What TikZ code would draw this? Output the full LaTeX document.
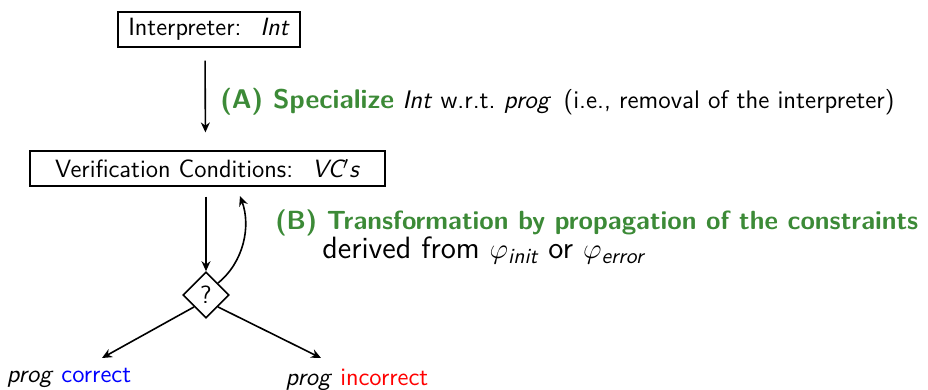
\documentclass[tikz,border=0pt]{standalone}
\usepackage{amsmath}
\usetikzlibrary{shapes.geometric,arrows.meta}
\renewcommand{\familydefault}{\sfdefault}
\definecolor{hgreen}{RGB}{60,138,55}
\newcommand{\sizeN}{\fontsize{12.5}{15}\selectfont}
\newcommand{\sizeA}{\fontsize{13.5}{16}\selectfont}
\newcommand{\sizeB}{\fontsize{13.15}{16}\selectfont}
\newcommand{\sizeT}{\fontsize{12.7}{15}\selectfont}
\newcommand{\sizeD}{\fontsize{15.4}{18}\selectfont}
\begin{document}
\begin{tikzpicture}[x=0.5pt,y=-0.5pt,
  every node/.style={font=\sizeN\sffamily},
  box/.style={draw, semithick, inner sep=0pt, minimum height=17.5pt},
  flow/.style={-{Stealth[length=5pt,width=4.5pt]}, thick},
  lbl/.style={anchor=base west, inner sep=0pt}]
\useasboundingbox (0,0) rectangle (928,390);
\node[box, minimum width=91pt] (b1) at (209,29.5) {Interpreter: \ \textit{Int}};
\node[box, minimum width=177.5pt] (b2) at (207.5,168.5) {Verification Conditions: \ \textit{VC$'$s}};
\node[draw, thick, diamond, aspect=1, minimum width=23pt, minimum height=23pt, inner sep=0pt] (d) at (206,295) {?};
\coordinate (loopend) at (240,196);
\coordinate (cl) at (102,358);
\coordinate (cr) at (321,358);
\draw[flow, shorten >=9pt, shorten <=6.5pt] ([xshift=-2pt]b1.south) -- ([xshift=-1pt]b2.north);
\draw[flow, shorten <=5pt] (b2.south -| d.north) -- (d.north);
\draw[flow] (d.north east) .. controls (244,262) and (251,226) .. (loopend);
\draw[flow] (d.south west) -- (cl);
\draw[flow] (d.south east) -- (cr);
\node[lbl, font=\sizeT\sffamily] (la) at (220,109) {\textcolor{hgreen}{\sizeA\bfseries (A) Specialize} \textit{Int} w.r.t.\ \textit{prog} \,(i.e., removal of the interpreter)};
\node[lbl, font=\sizeB\sffamily] (lb1) at (275,230) {\textcolor{hgreen}{\bfseries (B) Transformation by propagation of the constraints}};
\node[lbl, font=\sizeD\sffamily] (lb2) at (322,259) {derived from $\varphi_{\text{\itshape init}}$ or $\varphi_{\text{\itshape error}}$};
\node[anchor=base] (pc) at (69,383) {\textit{prog} \textcolor{blue}{correct}};
\node[anchor=base] (pi) at (357,386) {\textit{prog} \textcolor{red}{incorrect}};
\end{tikzpicture}
\end{document}
